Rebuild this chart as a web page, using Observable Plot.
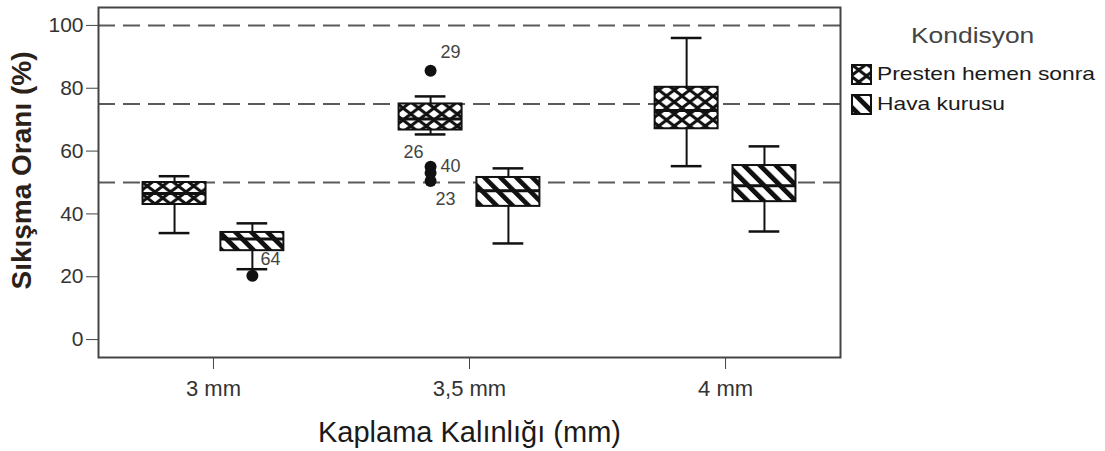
<!DOCTYPE html>
<html><head><meta charset="utf-8">
<script src="https://cdn.jsdelivr.net/npm/d3@7"></script>
<script src="https://cdn.jsdelivr.net/npm/@observablehq/plot@0.6"></script>
<style>
body{margin:0;background:#fff;font-family:"Liberation Sans",Arial,sans-serif;}
#wrap{position:relative;width:1105px;height:451px;overflow:hidden;}
#legend{position:absolute;left:851px;top:0;width:254px;}
#legend .title{position:absolute;left:60px;top:23px;font-size:22px;color:#444;transform:scaleX(1.2);transform-origin:left center;white-space:nowrap;}
#legend .item{position:absolute;left:0;display:flex;align-items:center;white-space:nowrap;}
#legend .item span{font-size:19px;color:#1a1a1a;margin-left:5px;display:inline-block;transform:scaleX(1.2);transform-origin:left center;}
</style></head><body><div id="wrap"></div>
<script>
// ---- data ----
const categories = ["3 mm", "3,5 mm", "4 mm"];
const conditions = ["Presten hemen sonra", "Hava kurusu"];
// Presten hemen sonra
const prestenLow    = [33.9, 65.3, 55.2];
const prestenQ1     = [43.0, 66.7, 67.1];
const prestenMedian = [46.5, 70.2, 72.9];
const prestenQ3     = [50.0, 75.0, 80.3];
const prestenHigh   = [52.0, 77.4, 96.0];
// Hava kurusu
const havaLow    = [22.4, 30.6, 34.4];
const havaQ1     = [28.3, 42.4, 43.9];
const havaMedian = [32.0, 47.4, 49.0];
const havaQ3     = [34.1, 51.6, 55.4];
const havaHigh   = [37.0, 54.5, 61.5];
// outliers
const outlierCategory  = ["3 mm", "3,5 mm", "3,5 mm", "3,5 mm", "3,5 mm"];
const outlierCondition = ["Hava kurusu", "Presten hemen sonra", "Presten hemen sonra", "Presten hemen sonra", "Presten hemen sonra"];
const outlierValue     = [20.3, 85.6, 55.0, 53.0, 50.5];
const outlierId        = ["64", "29", "40", "26", "23"];
const refLines = [50, 75, 100];
const yTicks = [0, 20, 40, 60, 80, 100];

// ---- layout / style config ----
const groupOffset = 0.152, boxHalf = 0.123, capHalf = 0.06;
const patternOf = {"Presten hemen sonra": "url(#crossPat)", "Hava kurusu": "url(#diagPat)"};
const labelPlacement = {
  "64": {dx: 8, dy: -17, textAnchor: "start"},
  "29": {dx: 10, dy: -18, textAnchor: "start"},
  "40": {dx: 10, dy: -1, textAnchor: "start"},
  "26": {dx: -7, dy: -21, textAnchor: "end"},
  "23": {dx: 5, dy: 18, textAnchor: "start"}
};

const stats = {
  "Presten hemen sonra": [prestenLow, prestenQ1, prestenMedian, prestenQ3, prestenHigh],
  "Hava kurusu": [havaLow, havaQ1, havaMedian, havaQ3, havaHigh]
};
const boxes = [];
conditions.forEach((cond, ci) => {
  const [lo, q1, md, q3, hi] = stats[cond];
  categories.forEach((cat, i) => {
    boxes.push({cat, cond, pos: i + (ci === 0 ? -groupOffset : groupOffset),
      lo: lo[i], q1: q1[i], med: md[i], q3: q3[i], hi: hi[i]});
  });
});
const outliers = outlierValue.map((v, k) => ({
  pos: categories.indexOf(outlierCategory[k]) + (conditions.indexOf(outlierCondition[k]) === 0 ? -groupOffset : groupOffset),
  value: v, id: outlierId[k]
}));

const boxMarks = conditions.map(cond => Plot.rect(boxes.filter(b => b.cond === cond), {
  x1: b => b.pos - boxHalf, x2: b => b.pos + boxHalf, y1: "q1", y2: "q3",
  fill: patternOf[cond], stroke: "#111", strokeWidth: 2
}));

const labelMarks = outliers.map(o => Plot.text([o], {
  x: "pos", y: "value", text: "id", fontSize: 18, fill: "#444",
  ...labelPlacement[o.id]
}));

const catIndex = categories.map((c, i) => i);

const plot = Plot.plot({
  width: 1105, height: 451,
  marginLeft: 98, marginRight: 265, marginTop: 7, marginBottom: 94,
  style: {fontFamily: "'Liberation Sans', Arial, sans-serif", fontSize: "20px", background: "white", color: "#333"},
  x: {domain: [-0.449, 2.449]},
  y: {domain: [-5.7, 105.7]},
  marks: [
    Plot.ruleY(refLines, {stroke: "#5a5a5a", strokeWidth: 2, strokeDasharray: "17,8"}),
    Plot.axisY(yTicks, {tickSize: 12, tickFormat: () => "", label: null, stroke: "#444"}),
    Plot.axisX(catIndex, {tickSize: 12, tickFormat: () => "", label: null, stroke: "#444"}),
    Plot.text(yTicks, {y: d => d, text: d => String(d), frameAnchor: "left", textAnchor: "end", lineAnchor: "middle", dx: -15, fontSize: 21, fill: "#333"}),
    Plot.text(catIndex, {x: d => d, text: i => categories[i], frameAnchor: "bottom", lineAnchor: "middle", dy: 31, fontSize: 22, fill: "#333"}),
    Plot.ruleX(boxes, {x: "pos", y1: "lo", y2: "hi", stroke: "#111", strokeWidth: 2}),
    Plot.ruleY(boxes, {y: "lo", x1: b => b.pos - capHalf, x2: b => b.pos + capHalf, stroke: "#111", strokeWidth: 2.5}),
    Plot.ruleY(boxes, {y: "hi", x1: b => b.pos - capHalf, x2: b => b.pos + capHalf, stroke: "#111", strokeWidth: 2.5}),
    ...boxMarks,
    Plot.ruleY(boxes, {y: "med", x1: b => b.pos - boxHalf, x2: b => b.pos + boxHalf, stroke: "#111", strokeWidth: 3}),
    Plot.dot(outliers, {x: "pos", y: "value", r: 6, fill: "#111", stroke: "none"}),
    ...labelMarks,
    Plot.frame({stroke: "#444", strokeWidth: 2}),
    Plot.text(["Sıkışma Oranı (%)"], {text: d => d, frameAnchor: "left", textAnchor: "middle", lineAnchor: "middle", rotate: -90, dx: -76, dy: -12, fontSize: 28, fontWeight: "bold", fill: "#2a2218"}),
    Plot.text(["Kaplama Kalınlığı (mm)"], {text: d => d, frameAnchor: "bottom", lineAnchor: "middle", dy: 75, fontSize: 29, fill: "#1a1a1a"})
  ]
});

const defs = `
<pattern id="crossPat" patternUnits="userSpaceOnUse" width="15.5" height="12">
  <rect width="15.5" height="12" fill="#fff"/>
  <path d="M0,0 L15.5,12 M15.5,0 L0,12" stroke="#111" stroke-width="3"/>
  <path d="M-7.75,6 L7.75,18 M7.75,-6 L23.25,6" stroke="#111" stroke-width="1.4"/>
</pattern>
<pattern id="diagPat" patternUnits="userSpaceOnUse" width="11.3" height="11.3" patternTransform="rotate(-45)">
  <rect width="11.3" height="11.3" fill="#fff"/>
  <rect x="0" y="0" width="4.8" height="11.3" fill="#111"/>
</pattern>`;
const defsEl = document.createElementNS("http://www.w3.org/2000/svg", "defs");
defsEl.innerHTML = defs;
plot.insertBefore(defsEl, plot.firstChild);

const wrap = document.getElementById("wrap");
wrap.appendChild(plot);

// legend
const legend = document.createElement("div");
legend.id = "legend";
legend.innerHTML = `<div class="title">Kondisyon</div>` + conditions.map((c, i) =>
  `<div class="item" style="top:${63 + i * 30}px"><svg width="21" height="21"><rect x="1" y="1" width="19" height="19" fill="${patternOf[c]}" stroke="#111" stroke-width="2"/></svg><span>${c}</span></div>`
).join("");
wrap.appendChild(legend);
</script>
</body></html>
